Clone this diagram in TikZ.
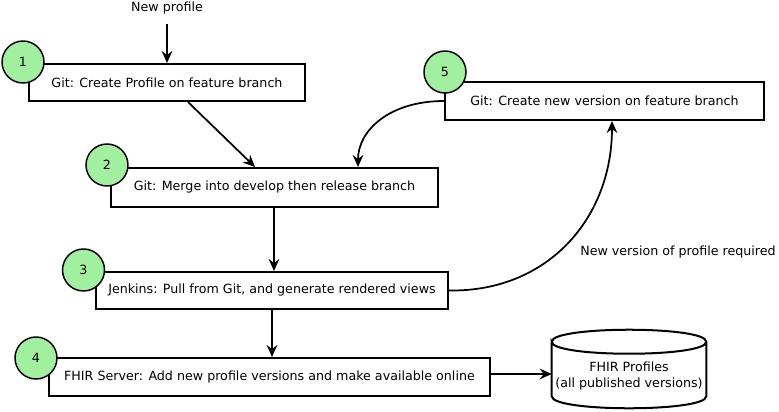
\documentclass[tikz,border=0pt]{standalone}
\usepackage{fontspec}
\setmainfont{DejaVu Sans}
\usetikzlibrary{arrows.meta,calc}

\definecolor{stepgreen}{RGB}{160,240,160}

\tikzset{
  stepbox/.style={draw, line width=1.5pt, fill=white, inner sep=0pt, font=\fontsize{9.5}{11}\selectfont},
  stepnum/.style={draw, circle, line width=1.1pt, fill=stepgreen, minimum size=31.5pt, inner sep=0pt, font=\fontsize{9.5}{11}\selectfont},
  conn/.style={line width=1.3pt, -{Stealth[length=9pt,width=8pt,inset=3pt]}},
}

\begin{document}
\begin{tikzpicture}[x=0.75pt,y=0.75pt,yscale=-1,xscale=1]
        \useasboundingbox (0,0) rectangle (779,411);
        % Text Node
        \node (newp) at (167,8) [font=\fontsize{9.5}{11}\selectfont] {New profile};
        % Step boxes
        \node (b1) at (167,82.5) [stepbox, minimum width=207pt, minimum height=27.75pt] {Git: Create Profile on feature branch};
        \node (b5) at (604.5,101) [stepbox, minimum width=239.25pt, minimum height=28.5pt] {Git: Create new version on feature branch};
        \node (b2) at (274.5,187.5) [stepbox, minimum width=245.25pt, minimum height=29.25pt] {Git: Merge into develop then release branch};
        \node (b3) at (272,290.5) [stepbox, minimum width=264pt, minimum height=27.75pt] {Jenkins: Pull from Git, and generate rendered views};
        \node (b4) at (269.5,377) [stepbox, minimum width=330.75pt, minimum height=28.5pt] {FHIR Server: Add new profile versions and make available online};
        % Step numbers
        \node (n1) at (23,62) [stepnum] {1};
        \node (n2) at (107,165) [stepnum] {2};
        \node (n3) at (83.5,270) [stepnum] {3};
        \node (n4) at (36,358) [stepnum] {4};
        \node (n5) at (445,72) [stepnum] {5};
        % Store
        \node (store) at (629,376) [align=center, minimum width=115.5pt, minimum height=40.5pt, inner sep=0pt, font=\fontsize{9.5}{12}\selectfont] {FHIR Profiles\\(all published versions)};
        \coordinate (stl) at ($(store.north west)+(0,-7)$);
        \coordinate (str) at ($(store.north east)+(0,-7)$);
        \coordinate (sbl) at ($(store.south west)+(0,-7)$);
        \coordinate (sbr) at ($(store.south east)+(0,-7)$);
        \draw [line width=1.5pt] (stl) .. controls ($(stl)+(0,-16)$) and ($(str)+(0,-16)$) .. (str) .. controls ($(str)+(0,16)$) and ($(stl)+(0,16)$) .. (stl) -- (sbl) .. controls ($(sbl)+(0,16)$) and ($(sbr)+(0,16)$) .. (sbr) -- (str);
        % Label
        \node (lbl) at (678,252) [font=\fontsize{9.5}{11}\selectfont] {New version of profile required};
        % Connection
        \coordinate (b2s) at ($(b2.south)+(-0.5,0)$);
        \coordinate (b4e) at ($(b4.east)+(0,-3)$);
        \draw [conn, shorten <=4pt] (newp.south) -- (b1.north);
        \draw [conn] ($(b1.south)+(21,0)$) -- ($(b2.north)+(-19.5,0)$);
        \draw [conn] (b5.west) .. controls (390,101) and (358,130) .. ($(b2.north)+(83.5,0)$);
        \draw [conn] (b2s) -- (b2s |- b3.north);
        \draw [conn] (b3.south) -- (b3.south |- b4.north);
        \draw [conn] (b3.east) .. controls (548,292) and (612,218) .. ($(b5.south)+(7.5,0)$);
        \draw [conn] (b4e) -- (b4e -| stl);
    \end{tikzpicture}
\end{document}
